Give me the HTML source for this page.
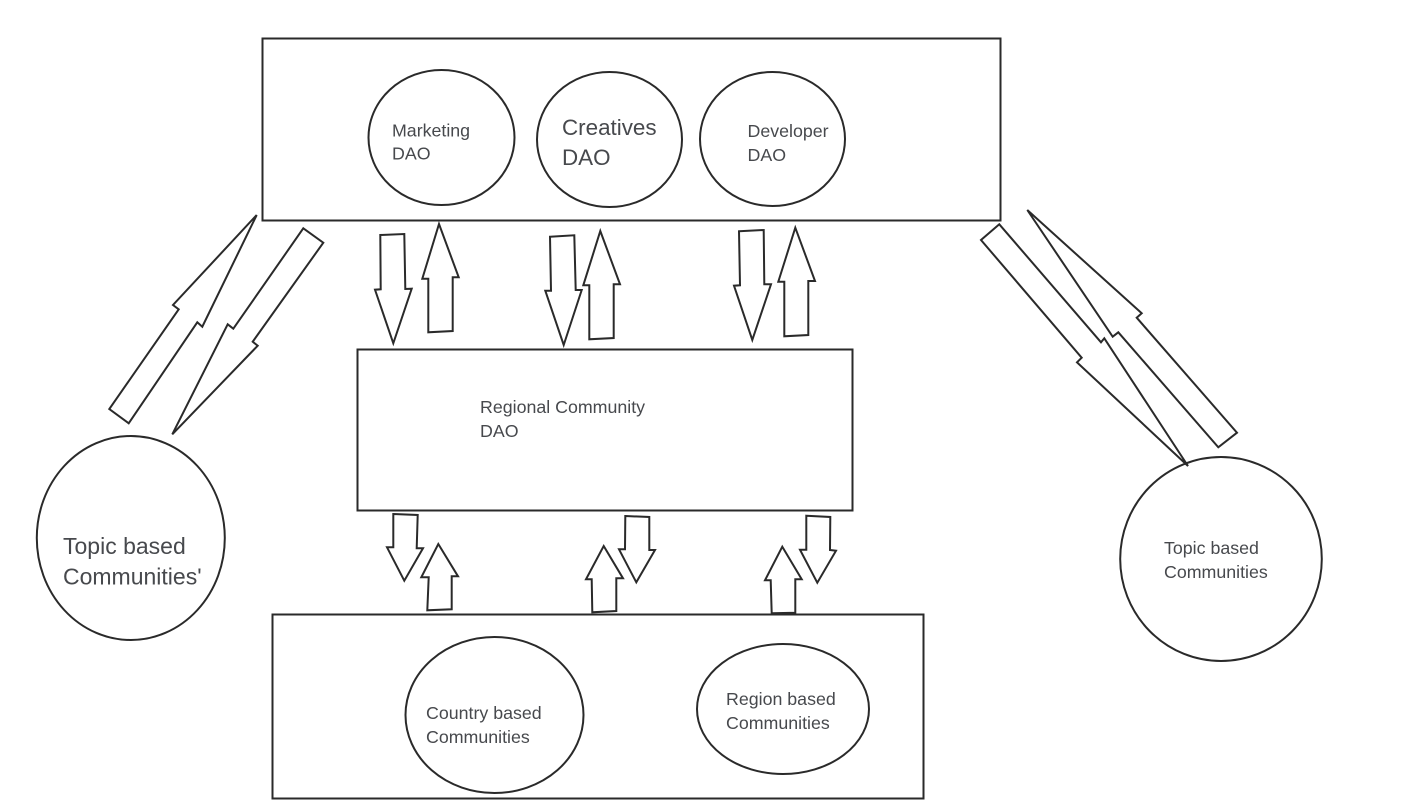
<!DOCTYPE html>
<html><head><meta charset="utf-8"><style>
html,body{margin:0;padding:0;background:#fff;width:1422px;height:800px;overflow:hidden}
svg{display:block}
text{font-family:"Liberation Sans",sans-serif;fill:#47494d}
.s{fill:none;stroke:#2a2a2a;stroke-width:2}
</style></head><body>
<svg width="1422" height="800" viewBox="0 0 1422 800">
<g class="s">
<rect x="262.500" y="38.500" width="738" height="182"/>
<rect x="357.500" y="349.500" width="495" height="161"/>
<rect x="272.500" y="614.500" width="651" height="184"/>
<ellipse cx="441.500" cy="137.500" rx="73" ry="67.500"/>
<ellipse cx="609.500" cy="139.500" rx="72.500" ry="67.500"/>
<ellipse cx="772.500" cy="139" rx="72.500" ry="67"/>
<ellipse cx="494.500" cy="715" rx="89" ry="78"/>
<ellipse cx="783" cy="709" rx="86" ry="65"/>
<ellipse cx="130.800" cy="538" rx="94" ry="102"/>
<ellipse cx="1221" cy="559" rx="100.800" ry="102"/>
<!-- top arrows -->
<polygon points="380.300,235 404.300,234 405.300,289 411.700,288.700 393.300,343.300 375,289.700 380.700,289.300"/>
<polygon points="439,224 458.700,277.300 452.700,277.300 452.700,331 428.300,332.300 428.300,278.700 422.300,278.700"/>
<polygon points="550,236.700 574.300,235.300 575.700,290 581.700,290 563.700,345 545.300,290.700 551,290.700"/>
<polygon points="600.300,231 620,284.300 613.700,284.300 613.700,338 589.300,339.300 589.300,285.300 583.300,285.300"/>
<polygon points="739,231.300 763.700,230 764.300,284.300 771,284.300 752.300,340 734,285.700 740,285.300"/>
<polygon points="795.300,227.700 815,281 808.300,281 808.300,335 784.300,336.300 784.300,281.700 778.300,281.700"/>
<!-- lower arrows -->
<polygon points="393.300,514 417.700,515 416.700,548.300 423,548.300 404.300,580.700 387,547.300 393.300,547.300"/>
<polygon points="438.300,544 458,576.300 451.700,576.300 451.700,609.300 427.300,610.300 428.700,577.300 421.300,577.300"/>
<polygon points="603.700,546 623,578.300 616.300,578.300 616.300,611 592.300,612.300 591.700,579.300 586,579.300"/>
<polygon points="625.300,516 649.300,517 649.300,550 655,550 636.300,582.300 619,549.300 625,549.300"/>
<polygon points="782.300,546.700 801.700,579.300 795.300,579.300 795.300,612.700 771.700,613.300 770.700,580.300 765,580.300"/>
<polygon points="806.300,515.700 830.300,517 830,550 836,550.700 817.300,582.700 800,549.700 806.300,549.700"/>
<!-- left diagonal -->
<polygon points="256.700,215 173,305 178.700,309.300 109.300,409 128.700,423.300 197.300,322.300 202.300,326.700"/>
<polygon points="303.300,228.300 323.300,242.700 252.700,341.700 257.700,345.700 172.300,434.300 227.700,324.300 233.300,328.700"/>
<!-- right diagonal -->
<polygon points="999.300,224.300 981,240 1081.700,357.700 1077,362.300 1188,466 1104.300,338.300 1101,342.300"/>
<polygon points="1027.300,210 1141.700,313.300 1136.700,317.700 1237,432.700 1218.300,447.300 1118.300,332.300 1112.700,336.700"/>
</g>
<g font-size="17.800">
<text x="392" y="136.500">Marketing</text><text x="392" y="159.500">DAO</text>
<text x="747.500" y="137">Developer</text><text x="747.500" y="161">DAO</text>
<text x="480" y="413">Regional Community</text><text x="480" y="437">DAO</text>
<text x="426" y="719">Country based</text><text x="426" y="743">Communities</text>
<text x="726" y="705">Region based</text><text x="726" y="729">Communities</text>
<text x="1164" y="554">Topic based</text><text x="1164" y="578">Communities</text>
</g>
<text x="562" y="135" font-size="22.400">Creatives</text>
<text x="562" y="165" font-size="22.400">DAO</text>
<text x="63" y="554" font-size="23">Topic based</text>
<text x="63" y="584.500" font-size="23">Communities'</text>
</svg>
</body></html>
